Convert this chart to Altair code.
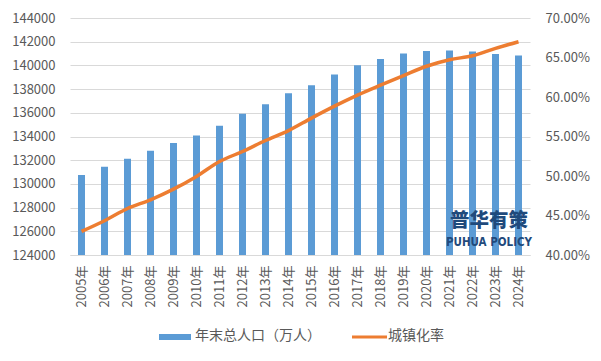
import altair as alt
import pandas as pd

years = [f"{y}年" for y in range(2005, 2025)]
population = [130756, 131448, 132129, 132802, 133450, 134091, 134916, 135922, 136726, 137646,
              138326, 139232, 140011, 140541, 141008, 141212, 141260, 141175, 140967, 140828]
urban_rate = [0.4299, 0.4434, 0.4589, 0.4699, 0.4834, 0.4995, 0.5183, 0.5310, 0.5449, 0.5575,
              0.5733, 0.5884, 0.6024, 0.6150, 0.6271, 0.6389, 0.6472, 0.6522, 0.6616, 0.6700]
left_ticks = list(range(124000, 144001, 2000))
right_ticks = [0.40, 0.45, 0.50, 0.55, 0.60, 0.65, 0.70]
legend_labels = ["年末总人口（万人）", "城镇化率"]
brand_cn = "普华有策"
brand_en = "PUHUA POLICY"

BLUE = "#5B9BD5"
ORANGE = "#ED7D31"
GRID = "#D9D9D9"
TXT = "#595959"
NAVY = "#1F4A7C"
FONT = "Noto Sans CJK SC"

df = pd.DataFrame({"year": years, "pop": population, "rate": urban_rate})

xenc = alt.X(
    "year:N", sort=years, title=None,
    scale=alt.Scale(paddingInner=0, paddingOuter=0),
    axis=alt.Axis(labelAngle=-90, labelPadding=10, ticks=False, domainColor=GRID,
                  labelColor=TXT, labelFontSize=13, labelFont=FONT, grid=False),
)

bars = alt.Chart(df).mark_bar(size=7, color=BLUE, clip=True).encode(
    x=xenc,
    y=alt.Y("pop:Q", title=None,
            scale=alt.Scale(domain=[124000, 144000], nice=False, zero=False),
            axis=alt.Axis(orient="left", values=left_ticks, format="d", domain=False, ticks=False,
                          grid=True, gridColor=GRID, labelPadding=15, labelColor=TXT,
                          labelFontSize=13, labelFont=FONT)),
)

line = alt.Chart(df).mark_line(color=ORANGE, strokeWidth=3.5, interpolate="monotone").encode(
    x=alt.X("year:N", sort=years),
    y=alt.Y("rate:Q", title=None,
            scale=alt.Scale(domain=[0.40, 0.70], nice=False, zero=False),
            axis=alt.Axis(orient="right", values=right_ticks, format=".2%", domain=False, ticks=False,
                          grid=False, labelPadding=15, labelColor=TXT, labelFontSize=13,
                          labelFont=FONT)),
)

one = pd.DataFrame({"a": [0]})

leg_rect = alt.Chart(one).mark_rect(color=BLUE).encode(
    x=alt.value(89), x2=alt.value(121), y=alt.value(316), y2=alt.value(322))
leg_rule = alt.Chart(one).mark_rule(color=ORANGE, strokeWidth=3).encode(
    x=alt.value(282), x2=alt.value(317), y=alt.value(319))
leg_t1 = alt.Chart(one).mark_text(align="left", baseline="middle", fontSize=14, font=FONT,
                                  color=TXT, text=legend_labels[0]).encode(
    x=alt.value(125), y=alt.value(318))
leg_t2 = alt.Chart(one).mark_text(align="left", baseline="middle", fontSize=14, font=FONT,
                                  color=TXT, text=legend_labels[1]).encode(
    x=alt.value(318), y=alt.value(318))

wm1 = alt.Chart(one).mark_text(align="center", baseline="middle", fontSize=19.5, font=FONT,
                               fontWeight=900, color=NAVY, text=brand_cn).encode(
    x=alt.value(419), y=alt.value(203))
wm2 = alt.Chart(one).mark_text(align="center", baseline="middle", fontSize=11.5,
                               font="DejaVu Sans Condensed, Roboto, Liberation Sans",
                               fontWeight="bold", color=NAVY, text=brand_en).encode(
    x=alt.value(419), y=alt.value(225))

chart = alt.layer(bars, line, leg_rect, leg_rule, leg_t1, leg_t2, wm1, wm2).resolve_scale(
    y="independent"
).properties(
    width=460, height=237,
    autosize=alt.AutoSizeParams(type="none"),
    padding={"left": 62, "top": 10, "right": 63, "bottom": 98},
    background="white",
).configure_view(stroke=None)

chart.save("out.html", embed_options={"renderer": "svg", "actions": False})
